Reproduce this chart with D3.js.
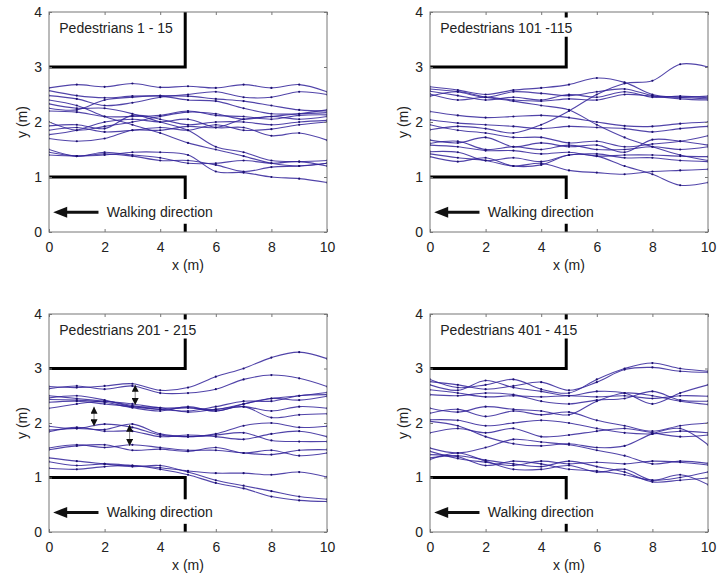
<!DOCTYPE html>
<html>
<head>
<meta charset="utf-8">
<script src="https://cdn.jsdelivr.net/npm/d3@7"></script>
<style>
  body { margin: 0; background: #fff; }
  text { font-family: Arial, "Liberation Sans", sans-serif; fill: #222; }
</style>
</head>
<body>
<div id="vis"></div>
<script>
// sample positions along the corridor (m)
var xSamples = [0, 1, 2, 3, 4, 5, 6, 7, 8, 9, 10];
var xTicks = [0, 2, 4, 6, 8, 10];
var yTicks = [0, 1, 2, 3, 4];

var titles = ["Pedestrians 1 - 15", "Pedestrians 101 -115", "Pedestrians 201 - 215", "Pedestrians 401 - 415"];

// y position (m) of each pedestrian at each x sample
var peds1 = [
  [2.62, 2.68, 2.64, 2.70, 2.63, 2.65, 2.62, 2.68, 2.62, 2.68, 2.55],
  [2.57, 2.48, 2.44, 2.47, 2.48, 2.47, 2.42, 2.38, 2.30, 2.22, 2.20],
  [2.48, 2.42, 2.30, 2.35, 2.45, 2.50, 2.55, 2.45, 2.45, 2.55, 2.50],
  [2.40, 2.30, 2.10, 1.95, 1.80, 1.62, 1.50, 1.38, 1.25, 1.20, 1.25],
  [2.33, 2.25, 2.25, 2.15, 2.00, 1.85, 1.55, 1.45, 1.30, 1.28, 1.30],
  [2.25, 2.22, 2.40, 2.45, 2.47, 2.40, 2.38, 2.25, 2.15, 2.15, 2.17],
  [2.20, 2.18, 2.10, 2.10, 2.12, 2.20, 2.12, 2.10, 2.05, 2.12, 2.13],
  [2.00, 1.85, 1.92, 2.00, 2.10, 2.18, 2.15, 2.05, 2.10, 2.05, 2.10],
  [1.93, 1.95, 1.88, 2.12, 2.05, 1.95, 2.00, 2.00, 1.95, 2.00, 2.03],
  [1.85, 1.90, 1.82, 1.85, 1.90, 1.85, 1.95, 1.85, 1.87, 1.95, 2.00],
  [1.77, 1.85, 2.00, 2.05, 2.00, 2.05, 1.90, 1.90, 1.75, 1.80, 1.67],
  [1.70, 1.65, 1.70, 1.85, 1.85, 1.92, 1.90, 2.05, 2.10, 2.15, 2.22],
  [1.50, 1.38, 1.45, 1.40, 1.35, 1.25, 1.25, 1.30, 1.25, 1.28, 1.20],
  [1.45, 1.38, 1.42, 1.38, 1.30, 1.30, 1.22, 1.10, 1.18, 1.20, 1.25],
  [1.40, 1.38, 1.40, 1.45, 1.45, 1.40, 1.10, 1.08, 1.00, 0.97, 0.90]
];
var peds101 = [
  [2.64, 2.58, 2.50, 2.58, 2.62, 2.68, 2.80, 2.72, 2.50, 2.45, 2.42],
  [2.60, 2.55, 2.45, 2.55, 2.52, 2.48, 2.55, 2.60, 2.48, 2.42, 2.40],
  [2.56, 2.48, 2.40, 2.45, 2.40, 2.50, 2.45, 2.55, 2.45, 2.47, 2.44],
  [2.51, 2.40, 2.45, 2.40, 2.38, 2.42, 2.40, 2.50, 2.47, 2.45, 2.47],
  [2.47, 2.55, 2.45, 2.38, 2.30, 2.22, 1.95, 1.72, 1.55, 1.40, 1.30],
  [2.19, 2.12, 2.08, 2.10, 2.12, 2.08, 2.00, 1.93, 1.92, 1.97, 2.00],
  [2.04, 1.98, 1.95, 1.92, 1.88, 1.92, 1.90, 1.88, 1.82, 1.88, 1.92],
  [1.95, 1.85, 1.80, 1.72, 1.72, 1.62, 1.65, 1.55, 1.60, 1.65, 1.75],
  [1.86, 1.92, 1.88, 1.80, 1.95, 2.20, 2.50, 2.70, 2.75, 3.05, 3.00],
  [1.67, 1.62, 1.72, 1.55, 1.62, 1.55, 1.58, 1.45, 1.68, 1.65, 1.58],
  [1.61, 1.65, 1.50, 1.55, 1.50, 1.58, 1.50, 1.50, 1.55, 1.50, 1.55],
  [1.58, 1.55, 1.48, 1.48, 1.42, 1.45, 1.38, 1.40, 1.40, 1.38, 1.37],
  [1.46, 1.45, 1.30, 1.35, 1.28, 1.40, 1.42, 1.35, 1.35, 1.30, 1.28],
  [1.42, 1.35, 1.30, 1.20, 1.25, 1.12, 1.08, 1.05, 1.10, 1.12, 1.14],
  [1.37, 1.28, 1.35, 1.20, 1.22, 1.40, 1.38, 1.20, 1.05, 0.85, 0.90]
];
var peds201 = [
  [2.67, 2.65, 2.68, 2.72, 2.60, 2.65, 2.85, 3.00, 3.20, 3.30, 3.18],
  [2.63, 2.68, 2.62, 2.68, 2.55, 2.55, 2.62, 2.80, 2.88, 2.82, 2.67],
  [2.50, 2.45, 2.40, 2.35, 2.28, 2.28, 2.25, 2.35, 2.45, 2.50, 2.56],
  [2.46, 2.50, 2.42, 2.30, 2.25, 2.22, 2.30, 2.40, 2.40, 2.50, 2.52],
  [2.43, 2.42, 2.38, 2.28, 2.22, 2.30, 2.22, 2.35, 2.45, 2.42, 2.49],
  [2.38, 2.40, 2.35, 2.30, 2.28, 2.20, 2.25, 2.30, 2.22, 2.30, 2.27],
  [2.27, 2.35, 2.40, 2.32, 2.25, 2.28, 2.22, 2.30, 2.10, 2.15, 2.17],
  [1.94, 1.90, 1.98, 1.92, 1.78, 1.75, 1.80, 1.95, 2.00, 1.92, 1.94],
  [1.87, 1.90, 1.88, 1.98, 1.80, 1.75, 1.78, 1.82, 1.68, 1.66, 1.66],
  [1.84, 1.92, 1.85, 1.85, 1.75, 1.78, 1.75, 1.70, 1.80, 1.85, 1.75],
  [1.54, 1.60, 1.55, 1.60, 1.55, 1.50, 1.50, 1.45, 1.42, 1.50, 1.51],
  [1.51, 1.58, 1.60, 1.50, 1.52, 1.48, 1.55, 1.45, 1.50, 1.40, 1.45],
  [1.36, 1.30, 1.25, 1.20, 1.22, 1.10, 0.95, 0.85, 0.75, 0.65, 0.60],
  [1.29, 1.22, 1.25, 1.22, 1.18, 1.12, 1.08, 1.08, 1.05, 1.10, 1.01],
  [1.17, 1.15, 1.20, 1.22, 1.15, 1.05, 0.90, 0.80, 0.65, 0.58, 0.56]
];
var peds401 = [
  [2.80, 2.65, 2.70, 2.80, 2.62, 2.55, 2.80, 3.00, 3.10, 3.00, 2.95],
  [2.76, 2.70, 2.62, 2.68, 2.75, 2.60, 2.75, 2.98, 3.02, 2.95, 2.93],
  [2.70, 2.60, 2.78, 2.65, 2.58, 2.50, 2.58, 2.55, 2.35, 2.55, 2.70],
  [2.61, 2.55, 2.48, 2.50, 2.48, 2.50, 2.48, 2.50, 2.45, 2.50, 2.49],
  [2.52, 2.50, 2.55, 2.52, 2.40, 2.35, 2.42, 2.45, 2.58, 2.42, 2.40],
  [2.27, 2.20, 2.30, 2.25, 2.22, 2.15, 2.40, 2.55, 2.50, 2.40, 2.34],
  [2.18, 2.25, 2.12, 2.22, 2.15, 2.20, 2.05, 1.95, 1.85, 1.95, 2.00],
  [2.06, 2.05, 1.95, 2.00, 2.05, 2.00, 1.90, 1.82, 1.80, 1.85, 1.82],
  [2.03, 1.95, 1.75, 1.62, 1.58, 1.62, 1.55, 1.58, 1.80, 1.90, 1.60],
  [1.82, 1.90, 1.82, 1.90, 1.75, 1.78, 1.85, 1.90, 1.82, 1.75, 1.78],
  [1.54, 1.45, 1.55, 1.70, 1.65, 1.60, 1.50, 1.40, 1.25, 1.30, 1.26],
  [1.48, 1.35, 1.28, 1.22, 1.30, 1.25, 1.28, 1.25, 1.30, 1.28, 1.23],
  [1.42, 1.38, 1.22, 1.30, 1.25, 1.15, 1.12, 1.05, 0.95, 1.00, 1.10],
  [1.36, 1.40, 1.32, 1.25, 1.20, 1.30, 1.20, 1.10, 0.92, 0.95, 0.99],
  [1.33, 1.45, 1.30, 1.15, 1.15, 1.22, 1.10, 1.15, 0.95, 1.05, 0.87]
];

// spacing arrows shown in the third panel: [x, y from, y to]
var gapArrows = [[3.1, 2.70, 2.33], [1.62, 2.30, 1.94], [2.9, 1.97, 1.58]];

// corridor walls (m)
var wallX = 4.9, wallLow = 1, wallHigh = 3;

var panels = [
  {title: titles[0], data: peds1, left: 49, top: 12, h: 220, arrows: []},
  {title: titles[1], data: peds101, left: 430, top: 12, h: 220, arrows: []},
  {title: titles[2], data: peds201, left: 49, top: 314, h: 218, arrows: gapArrows},
  {title: titles[3], data: peds401, left: 430, top: 314, h: 218, arrows: []}
];
var plotW = 278;
var lineColor = "#33239a";

var svg = d3.select("#vis").append("svg")
  .attr("width", 717).attr("height", 577);

var defs = svg.append("defs");
defs.append("marker").attr("id", "head")
  .attr("viewBox", "0 0 10 10").attr("refX", 10).attr("refY", 5)
  .attr("markerWidth", 7).attr("markerHeight", 7).attr("orient", "auto-start-reverse")
  .attr("markerUnits", "userSpaceOnUse")
  .append("path").attr("d", "M0,0L10,5L0,10Z").attr("fill", "#111");

panels.forEach(function(p, pi) {
  var x = d3.scaleLinear().domain([0, 10]).range([0, plotW]);
  var y = d3.scaleLinear().domain([0, 4]).range([p.h, 0]);

  var g = svg.append("g").attr("transform", "translate(" + p.left + "," + p.top + ")");

  defs.append("clipPath").attr("id", "clip" + pi)
    .append("rect").attr("width", plotW).attr("height", p.h);

  var plot = g.append("g").attr("clip-path", "url(#clip" + pi + ")");

  var line = d3.line()
    .x(function(d, i) { return x(xSamples[i]); })
    .y(function(d) { return y(d); })
    .curve(d3.curveCatmullRom.alpha(0.5));

  // trajectories
  plot.selectAll(".traj").data(p.data).enter().append("path")
    .attr("class", "traj")
    .attr("d", line)
    .attr("fill", "none")
    .attr("stroke", lineColor)
    .attr("stroke-opacity", 0.85)
    .attr("stroke-width", 1.1);

  // sample markers
  p.data.forEach(function(ped) {
    plot.selectAll(null).data(ped).enter().append("circle")
      .attr("cx", function(d, i) { return x(xSamples[i]); })
      .attr("cy", function(d) { return y(d); })
      .attr("r", 1.1)
      .attr("fill", "#1c1070");
  });

  // walls
  g.append("path")
    .attr("d", "M" + x(0) + "," + y(wallHigh) + "H" + x(wallX) + "V" + y(4))
    .attr("fill", "none").attr("stroke", "#000").attr("stroke-width", 3);
  g.append("path")
    .attr("d", "M" + x(0) + "," + y(wallLow) + "H" + x(wallX) + "V" + y(0))
    .attr("fill", "none").attr("stroke", "#000").attr("stroke-width", 3);

  // gap arrows
  p.arrows.forEach(function(a) {
    g.append("line")
      .attr("x1", x(a[0])).attr("x2", x(a[0]))
      .attr("y1", y(a[1])).attr("y2", y(a[2]))
      .attr("stroke", "#888").attr("stroke-width", 1)
      .attr("marker-start", "url(#head)").attr("marker-end", "url(#head)");
  });

  // title box
  var t = g.append("text")
    .attr("x", x(0.37)).attr("y", y(3.7)).attr("dy", "0.35em")
    .attr("font-size", 14).text(p.title);
  var bb = t.node().getBBox();
  g.insert("rect", "text")
    .attr("x", bb.x - 4).attr("y", y(3.9))
    .attr("width", bb.width + 12).attr("height", y(3.55) - y(3.9))
    .attr("fill", "#fff");

  // walking direction label
  var wt = g.append("text")
    .attr("x", x(2.08)).attr("y", y(0.36)).attr("dy", "0.35em")
    .attr("font-size", 14).text("Walking direction");
  var wb = wt.node().getBBox();
  g.insert("rect", "text")
    .attr("x", x(0.1)).attr("y", y(0.6))
    .attr("width", wb.x + wb.width + 4 - x(0.1)).attr("height", y(0.15) - y(0.6))
    .attr("fill", "#fff");
  g.append("line")
    .attr("x1", x(1.78)).attr("x2", x(0.62))
    .attr("y1", y(0.36)).attr("y2", y(0.36))
    .attr("stroke", "#111").attr("stroke-width", 3);
  g.append("path")
    .attr("d", "M" + x(0.15) + "," + y(0.36) + "l14,-5.5l0,11z")
    .attr("fill", "#111");

  // axes
  var axisStyle = function(sel) {
    sel.select(".domain").remove();
    sel.selectAll(".tick line").attr("stroke", "#777");
    sel.selectAll(".tick text").attr("font-size", 14).attr("fill", "#222")
      .attr("font-family", "Arial, 'Liberation Sans', sans-serif");
  };
  g.append("g").attr("transform", "translate(0," + p.h + ")")
    .call(d3.axisBottom(x).tickValues(xTicks).tickSize(-3).tickPadding(10).tickFormat(d3.format("d")))
    .call(axisStyle);
  g.append("g")
    .call(d3.axisTop(x).tickValues(xTicks).tickSize(-3).tickFormat(""))
    .call(axisStyle);
  g.append("g")
    .call(d3.axisLeft(y).tickValues(yTicks).tickSize(-3).tickPadding(7).tickFormat(d3.format("d")))
    .call(axisStyle);
  g.append("g").attr("transform", "translate(" + plotW + ",0)")
    .call(d3.axisRight(y).tickValues(yTicks).tickSize(-3).tickFormat(""))
    .call(axisStyle);

  g.append("rect").attr("width", plotW).attr("height", p.h)
    .attr("fill", "none").attr("stroke", "#777").attr("stroke-width", 1);

  g.append("text")
    .attr("x", plotW / 2).attr("y", p.h + 38)
    .attr("text-anchor", "middle").attr("font-size", 14).text("x (m)");
  g.append("text")
    .attr("transform", "translate(-22," + (p.h / 2) + ") rotate(-90)")
    .attr("text-anchor", "middle").attr("font-size", 14).text("y (m)");
});
</script>
</body>
</html>
